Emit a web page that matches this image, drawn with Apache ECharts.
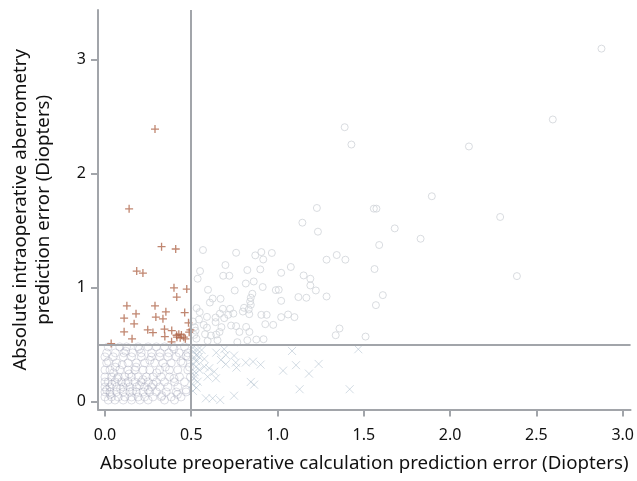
<!DOCTYPE html>
<html>
<head>
<meta charset="utf-8">
<script src="https://cdn.jsdelivr.net/npm/echarts@6/dist/echarts.min.js"></script>
<style>html,body{margin:0;padding:0;background:#fff}#c{width:637px;height:481px}</style>
</head>
<body>
<div id="c"></div>
<script>
// tick labels
const xTicks = [0, 0.5, 1.0, 1.5, 2.0, 2.5, 3.0];
const yTicks = [0, 1, 2, 3];
const refX = 0.5;
const refY = 0.5;

// upper-left quadrant: plus markers
const plusPts = [
  [0.29,2.39],[0.14,1.69],[0.328,1.357],[0.41,1.337],[0.184,1.143],[0.22,1.126],
  [0.40,0.996],[0.474,0.985],[0.416,0.915],[0.127,0.838],[0.29,0.838],[0.18,0.768],
  [0.353,0.785],[0.462,0.779],[0.111,0.73],[0.295,0.739],[0.336,0.724],[0.169,0.68],
  [0.484,0.689],[0.111,0.61],[0.248,0.627],[0.278,0.603],[0.345,0.633],[0.387,0.621],
  [0.495,0.627],[0.488,0.607],[0.347,0.568],[0.415,0.58],[0.428,0.589],[0.443,0.583],
  [0.417,0.563],[0.436,0.557],[0.457,0.563],[0.466,0.548],[0.157,0.548],[0.386,0.522],
  [0.036,0.507]
];

// upper-right quadrant: light circles
const upperRightPts = [
  [2.877,3.096],[2.595,2.474],[1.389,2.406],[1.428,2.254],[2.109,2.237],[1.894,1.80],
  [1.228,1.697],[1.558,1.691],[1.573,1.691],[2.29,1.618],[1.144,1.568],[1.234,1.489],
  [1.679,1.518],[1.829,1.427],[1.589,1.372],[0.967,1.302],[1.343,1.284],[1.284,1.243],
  [1.393,1.243],[1.021,1.128],[1.077,1.179],[1.562,1.161],[2.387,1.099],[1.151,1.105],
  [1.19,1.076],[1.19,1.017],[1.222,0.973],[1.007,0.979],[1.021,0.882],[1.121,0.915],
  [1.167,0.909],[1.284,0.92],[1.61,0.932],[1.57,0.844],[1.021,0.739],[1.061,0.762],
  [1.098,0.739],[1.359,0.639],[1.337,0.580],[1.51,0.568],
  [0.568,1.328],[0.76,1.304],[0.871,1.281],[0.906,1.31],[0.917,1.245],[0.698,1.196],
  [0.551,1.143],[0.537,1.076],[0.685,1.102],[0.721,1.102],[0.825,1.152],[0.9,1.158],
  [0.816,1.034],[0.862,1.052],[0.914,1.003],[0.99,0.976],[0.752,0.973],[0.597,0.979],
  [0.854,0.944],[0.845,0.909],[0.841,0.876],[0.845,0.847],[0.833,0.806],[0.836,0.765],
  [0.624,0.902],[0.67,0.9],[0.608,0.867],[0.806,0.821],[0.799,0.788],
  [0.683,0.812],[0.725,0.812],[0.744,0.770],[0.714,0.759],[0.666,0.770],[0.641,0.735],
  [0.641,0.695],[0.691,0.73],[0.731,0.665],
  [0.531,0.818],[0.549,0.783],[0.591,0.741],[0.545,0.718],[0.572,0.671],[0.591,0.647],
  [0.614,0.577],[0.645,0.586],[0.906,0.759],[0.937,0.759],[0.929,0.677],[0.975,0.671],
  [0.76,0.66],[0.779,0.609],[0.818,0.653],[0.837,0.609],[0.664,0.609],[0.675,0.651],
  [0.767,0.519],[0.825,0.536],[0.877,0.542],[0.919,0.545],
  [0.58,0.589],[0.595,0.53],[0.652,0.536],[0.518,0.583],
  [0.52,0.65],[0.53,0.55],[0.51,0.7],[0.525,0.62]
];

// lower-left quadrant: circles
const lowerLeftPts = [
  [0.019,0.478],[0.086,0.478],[0.125,0.478],[0.192,0.478],[0.25,0.478],[0.298,0.478],[0.345,0.478],[0.393,0.478],[0.461,0.478],
  [0.01,0.425],[0.06,0.425],[0.11,0.425],[0.16,0.425],[0.21,0.425],[0.27,0.425],[0.32,0.425],[0.37,0.425],[0.43,0.425],[0.48,0.425],
  [0.0,0.39],[0.048,0.39],[0.106,0.39],[0.154,0.39],[0.211,0.39],[0.269,0.39],[0.317,0.39],[0.365,0.39],[0.413,0.39],[0.48,0.39],
  [0.01,0.337],[0.067,0.337],[0.134,0.337],[0.182,0.337],[0.23,0.337],[0.288,0.337],[0.336,0.337],[0.384,0.337],[0.451,0.337],
  [0.0,0.275],[0.029,0.275],[0.086,0.275],[0.134,0.275],[0.173,0.275],[0.221,0.275],[0.259,0.275],[0.317,0.275],[0.374,0.275],[0.422,0.275],[0.48,0.275],
  [0.0,0.214],[0.038,0.214],[0.077,0.214],[0.115,0.214],[0.154,0.214],[0.192,0.214],[0.24,0.214],[0.278,0.214],[0.326,0.214],[0.374,0.214],[0.432,0.214],[0.495,0.214],
  [0.0,0.17],[0.019,0.17],[0.058,0.17],[0.096,0.17],[0.134,0.17],[0.173,0.17],[0.211,0.17],[0.25,0.17],[0.298,0.17],[0.345,0.17],[0.403,0.17],[0.461,0.17],
  [0.0,0.126],[0.029,0.126],[0.067,0.126],[0.106,0.126],[0.144,0.126],[0.182,0.126],[0.23,0.126],[0.269,0.126],[0.317,0.126],[0.365,0.126],[0.422,0.126],
  [0.0,0.082],[0.029,0.082],[0.067,0.082],[0.106,0.082],[0.144,0.082],[0.182,0.082],[0.221,0.082],[0.259,0.082],[0.298,0.082],[0.355,0.082],[0.413,0.082],[0.47,0.082],
  [0.0,0.038],[0.038,0.038],[0.077,0.038],[0.115,0.038],[0.154,0.038],[0.192,0.038],[0.23,0.038],[0.278,0.038],[0.326,0.038],[0.384,0.038],[0.441,0.038],
  [0.019,0.011],[0.058,0.011],[0.106,0.011],[0.154,0.011],[0.202,0.011],[0.25,0.011],[0.345,0.011],[0.403,0.011],
  [0.01,0.1],[0.04,0.15],[0.07,0.2],[0.05,0.25],[0.09,0.11],[0.12,0.16],[0.16,0.09],[0.2,0.14],
  [0.03,0.06],[0.14,0.24],[0.22,0.19],[0.25,0.1],[0.18,0.3],[0.1,0.32],[0.02,0.35],[0.06,0.3],
  [0.28,0.15],[0.3,0.25],[0.35,0.3],[0.4,0.2],[0.44,0.35],[0.47,0.1],[0.42,0.06],[0.33,0.05],
  [0.26,0.36],[0.12,0.44],[0.2,0.46],[0.4,0.46],[0.47,0.4],[0.49,0.3]
];

// lower-right quadrant: cross markers
const lowerRightPts = [
  [1.084,0.442],[1.468,0.457],[1.032,0.269],[1.107,0.317],[1.238,0.328],[1.182,0.243],
  [1.128,0.106],[1.418,0.106],[0.845,0.170],[0.864,0.146],[0.816,0.34],[0.858,0.348],
  [0.902,0.322],[0.70,0.325],[0.758,0.34],[0.762,0.296],[0.645,0.427],[0.691,0.457],
  [0.70,0.407],[0.748,0.401],[0.672,0.363],[0.604,0.29],[0.633,0.26],[0.547,0.275],
  [0.576,0.304],[0.537,0.172],[0.595,0.216],[0.643,0.202],[0.576,0.372],[0.528,0.407],
  [0.585,0.026],[0.624,0.026],[0.668,0.011],[0.748,0.049],[0.537,0.451],[0.528,0.304],
  [0.518,0.231],[0.514,0.436],[0.51,0.47],[0.52,0.38],[0.53,0.35],[0.51,0.33],
  [0.52,0.26],[0.515,0.2],[0.53,0.12],[0.51,0.09],[0.545,0.39],[0.56,0.45],[0.505,0.15]
];

const FONT = 'Noto Sans';
const AXIS_COLOR = '#a2a5aa';

const chart = echarts.init(document.getElementById('c'), null, {renderer: 'canvas'});
chart.setOption({
  animation: false,
  backgroundColor: '#fff',
  grid: {left: 98, right: 3, top: 10, bottom: 71.5, containLabel: false},
  xAxis: {
    type: 'value', min: -0.0403, max: 3.0455,
    name: 'Absolute preoperative calculation prediction error (Diopters)',
    nameLocation: 'middle', nameGap: 45,
    nameTextStyle: {fontFamily: FONT, fontSize: 18.7, color: '#111'},
    axisLine: {show: true, onZero: false, lineStyle: {color: AXIS_COLOR, width: 2}},
    axisTick: {show: true, length: 7, customValues: xTicks, lineStyle: {color: AXIS_COLOR, width: 2}},
    axisLabel: {customValues: xTicks, margin: 18, fontFamily: FONT, fontSize: 16, color: '#111',
      formatter: v => Number(v).toFixed(1)},
    splitLine: {show: false}
  },
  yAxis: {
    type: 'value', min: -0.072, max: 3.435,
    name: 'Absolute intraoperative aberrometry\nprediction error (Diopters)',
    nameLocation: 'middle', nameGap: 43, nameRotate: 90,
    nameTextStyle: {fontFamily: FONT, fontSize: 18.7, color: '#111', lineHeight: 23, align: 'center'},
    axisLine: {show: true, onZero: false, lineStyle: {color: AXIS_COLOR, width: 2}},
    axisTick: {show: true, length: 7, customValues: yTicks, lineStyle: {color: AXIS_COLOR, width: 2}},
    axisLabel: {customValues: yTicks, margin: 12, fontFamily: FONT, fontSize: 16, color: '#111',
      formatter: v => String(Math.round(v))},
    splitLine: {show: false}
  },
  series: [
    {
      type: 'scatter', name: 'upperRight', data: upperRightPts, symbol: 'circle', symbolSize: 7,
      itemStyle: {color: 'rgba(0,0,0,0)', borderColor: '#d0d3d8', borderWidth: 1}
    },
    {
      type: 'scatter', name: 'lowerLeft', data: lowerLeftPts, symbol: 'circle', symbolSize: 8,
      itemStyle: {color: 'rgba(0,0,0,0)', borderColor: 'rgba(150,152,175,0.4)', borderWidth: 1}
    },
    {
      type: 'scatter', name: 'lowerRight', data: lowerRightPts,
      symbol: 'path://M0,0L10,10M10,0L0,10', symbolSize: 8,
      itemStyle: {color: 'rgba(0,0,0,0)', borderColor: 'rgba(175,190,205,0.7)', borderWidth: 1}
    },
    {
      type: 'scatter', name: 'plus', data: plusPts,
      symbol: 'path://M0,5L10,5M5,0L5,10', symbolSize: 8,
      itemStyle: {color: 'rgba(0,0,0,0)', borderColor: '#b0684c', borderWidth: 1.3},
      markLine: {
        silent: true, symbol: 'none', label: {show: false},
        lineStyle: {color: AXIS_COLOR, width: 2, type: 'solid'},
        emphasis: {disabled: true},
        data: [{xAxis: refX}, {yAxis: refY}]
      }
    }
  ]
});
</script>
</body>
</html>
